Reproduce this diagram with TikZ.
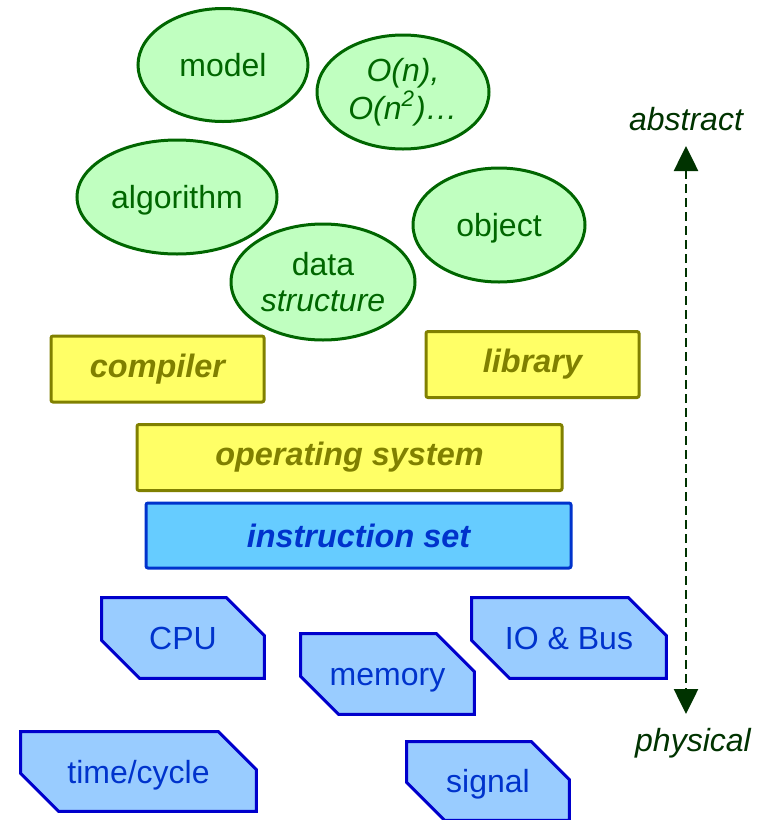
\documentclass[tikz,border=0pt]{standalone}
\usepackage{fontspec}
\setmainfont{Liberation Sans}
\usetikzlibrary{shapes.geometric,arrows.meta}
\pgfdeclarelayer{background}
\pgfsetlayers{background,main}
\definecolor{leafgreen}{HTML}{C0FFC0}
\definecolor{darkleaf}{HTML}{006600}
\definecolor{padyellow}{HTML}{FFFF66}
\definecolor{padolive}{HTML}{808000}
\definecolor{isablue}{HTML}{66CCFF}
\definecolor{isaline}{HTML}{0033CC}
\definecolor{hwblue}{HTML}{99CCFF}
\definecolor{hwline}{HTML}{0000CC}
\definecolor{axisgreen}{HTML}{003300}
% chamfered outline round a hardware node
\newcommand\hwoutline[1]{%
  \draw[hwedge] (#1.north west) -- ([xshift=-19pt]#1.north east) -- ([yshift=-19pt]#1.north east)
    -- (#1.south east) -- ([xshift=19pt]#1.south west) -- ([yshift=19pt]#1.south west) -- cycle;}
\begin{document}
\begin{tikzpicture}[x=0.5pt,y=-0.5pt,every node/.style={font=\fontsize{16}{18}\selectfont},
  oneline/.style={text height=11.5pt,text depth=0pt},
  idea/.style={ellipse,draw=darkleaf,line width=1.5pt,fill=leafgreen,text=darkleaf,inner sep=0pt,align=center},
  layer/.style={rectangle,draw=padolive,line width=1.5pt,fill=padyellow,text=padolive,rounded corners=1pt,minimum height=33pt,font=\fontsize{16.2}{18}\selectfont\bfseries\itshape},
  hw/.style={rectangle,oneline,text=isaline,minimum height=40pt,inner sep=0pt},
  hwedge/.style={draw=hwline,line width=1.5pt,fill=hwblue,line join=miter}]
\useasboundingbox (0,0) rectangle (762,820);
% abstract ideas
\node[idea,oneline,minimum width=85pt,minimum height=56.5pt] (model) at (223,65) {model};
\node[idea,minimum width=86pt,minimum height=57pt,font=\fontsize{16}{19}\selectfont\itshape] (order) at (403,92) {O(n),\\O(n\textsuperscript{2})…};
\node[idea,oneline,minimum width=100pt,minimum height=57pt] (algo) at (177,197) {algorithm};
\node[idea,minimum width=92pt,minimum height=58pt] (data) at (323,282) {data\\\textit{structure}};
\node[idea,oneline,minimum width=86pt,minimum height=57pt] (object) at (499,225) {object};
% software layers
\node[layer,minimum width=106.5pt] (compiler) at (157.5,369) {compiler};
\node[layer,minimum width=106.5pt] (library) at (532.5,364.5) {library};
\node[layer,minimum width=212.5pt] (os) at (349.5,457.5) {operating system};
\node[layer,draw=isaline,fill=isablue,text=isaline,minimum width=212.5pt,minimum height=32.5pt] (isa) at (358.5,535.5) {instruction set};
% hardware
\node[hw,minimum width=81pt] (cpu) at (183,638) {CPU};
\node[hw,minimum width=86.5pt] (memory) at (387.5,674) {memory};
\node[hw,minimum width=97pt] (io) at (569,638) {IO \& Bus};
\node[hw,minimum width=117.5pt,minimum height=39.5pt] (time) at (138.5,771.5) {time/cycle};
\node[hw,minimum width=81pt,minimum height=39pt] (signal) at (488,781) {signal};
\begin{pgfonlayer}{background}
\foreach \part in {cpu,memory,io,time,signal} {\hwoutline{\part}}
\end{pgfonlayer}
% axis
\node[text=axisgreen,font=\fontsize{16}{18}\selectfont\itshape] (abstract) at (686,119) {abstract};
\node[text=axisgreen,font=\fontsize{16}{18}\selectfont\itshape] (physical) at (693,743) {physical};
\coordinate (hi) at (686,146);
\coordinate (lo) at (686,714);
\draw[axisgreen,line width=1.3pt,dash pattern=on 4.5pt off 2.5pt,{Triangle[width=12pt,length=12.5pt]}-{Triangle[width=12pt,length=12.5pt]}] (hi) -- (lo);
\end{tikzpicture}
\end{document}
